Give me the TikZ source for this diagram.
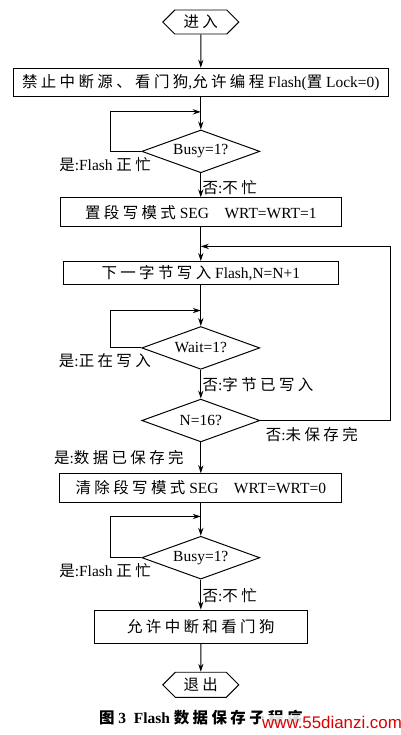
\documentclass[tikz,border=0pt]{standalone}
\usepackage{fontspec}
\setmainfont{Liberation Serif}
\newfontfamily\cjk[LetterSpace=22]{Noto Sans CJK SC}
\newfontfamily\wmfont{Liberation Sans}
\usetikzlibrary{positioning, arrows.meta, calc, shapes.geometric, shapes.symbols}

\begin{document}
\begin{tikzpicture}[
  >={Stealth[length=2mm, width=1.3mm]},
  every node/.style={font=\fontsize{11}{13}\selectfont},
  box/.style  = {draw, line width=0.7pt, inner sep=2pt, minimum height=0.72cm},
  cond/.style = {diamond, draw, line width=0.7pt, aspect=2.75, inner sep=0pt, minimum width=2.95cm, minimum height=1.07cm},
  term/.style = {signal, signal to=west and east, draw, line width=0.7pt, inner sep=1pt, minimum width=1.9cm, minimum height=0.6cm},
  lbl/.style  = {inner sep=1pt},
  arr/.style  = {->, line width=0.7pt},
]
  \useasboundingbox (0,0) rectangle (10.025,-18.375);
  \node[term] (in) at (5.02,-0.55) {{\cjk 进入}};
  \node[box, minimum width=9.38cm, below=0.83cm of in] (b1)
    {{\cjk 禁止中断源、看门狗},{\cjk 允许编程} Flash({\cjk 置} Lock=0)};
  \node[cond, below=0.8cm of b1] (d1) {Busy=1?};
  \node[box, minimum width=7.03cm, below=0.6cm of d1] (b2) {{\cjk 置段写模式} SEG\quad WRT=WRT=1};
  \node[box, minimum width=6.88cm, minimum height=0.58cm, below=0.85cm of b2] (b3) {{\cjk 下一字节写入} Flash,N=N+1};
  \node[cond, below=1.02cm of b3] (d2) {Wait=1?};
  \node[cond, below=0.72cm of d2] (d3) {N=16?};
  \node[box, minimum width=7.05cm, below=0.77cm of d3] (b4) {{\cjk 清除段写模式} SEG\quad WRT=WRT=0};
  \node[cond, below=0.82cm of b4] (d4) {Busy=1?};
  \node[box, minimum width=5.33cm, minimum height=0.83cm, below=0.75cm of d4] (b5) {{\cjk 允许中断和看门狗}};
  \node[term, minimum height=0.63cm, below=0.7cm of b5] (out) {{\cjk 退出}};
  \node[below=0.18cm of out, font=\fontsize{11}{13}\selectfont\bfseries] (cap)
    {{\cjk 图} 3\enspace Flash {\cjk 数据保存子程序}};
  \node[text=red!85!black, fill=white, fill opacity=0.85, text opacity=1, inner sep=1pt, font=\wmfont\fontsize{12}{14}\selectfont]
    (wm) at (8.3,-18.07) {www.55dianzi.com};
  % main flow
  \foreach \a/\b in {in/b1,b1/d1,b2/b3,b3/d2,b4/d4,b5/out}\draw[arr](\a)--(\b);
  \draw[arr] (d1) -- node[lbl, right, pos=0.6]{{\cjk 否}:{\cjk 不忙}} (b2);
  \draw[arr] (d2) -- node[lbl, right, pos=0.5]{{\cjk 否}:{\cjk 字节已写入}} (d3);
  \draw[arr] (d3) -- node[lbl, left, pos=0.5, xshift=-0.38cm]{{\cjk 是}:{\cjk 数据已保存完}} (b4);
  \draw[arr] (d4) -- node[lbl, right, pos=0.55]{{\cjk 否}:{\cjk 不忙}} (b5);
  % wait loops
  \coordinate (j1) at ($(b1.south)!0.45!(d1.north)$);
  \coordinate (j2) at ($(b3.south)!0.62!(d2.north)$);
  \coordinate (j4) at ($(b4.south)!0.41!(d4.north)$);
  \foreach \d/\j in {d1/j1,d2/j2,d4/j4}\draw[arr] (\d.west) -- ++(-0.78,0) |- (\j);
  \node[lbl, below left=0.1cm and -0.28cm of d1.west] {{\cjk 是}:Flash {\cjk 正忙}};
  \node[lbl, below left=0.1cm and -0.28cm of d2.west] {{\cjk 是}:{\cjk 正在写入}};
  \node[lbl, below left=0.1cm and -0.28cm of d4.west] {{\cjk 是}:Flash {\cjk 正忙}};
  % next byte
  \coordinate (jf) at ($(b2.south)!0.57!(b3.north)$);
  \draw[arr] (d3.east) -- ++(3.25,0) |- (jf);
  \node[lbl, below right=0.12cm and 0.1cm of d3.east] {{\cjk 否}:{\cjk 未保存完}};
\end{tikzpicture}
\end{document}
